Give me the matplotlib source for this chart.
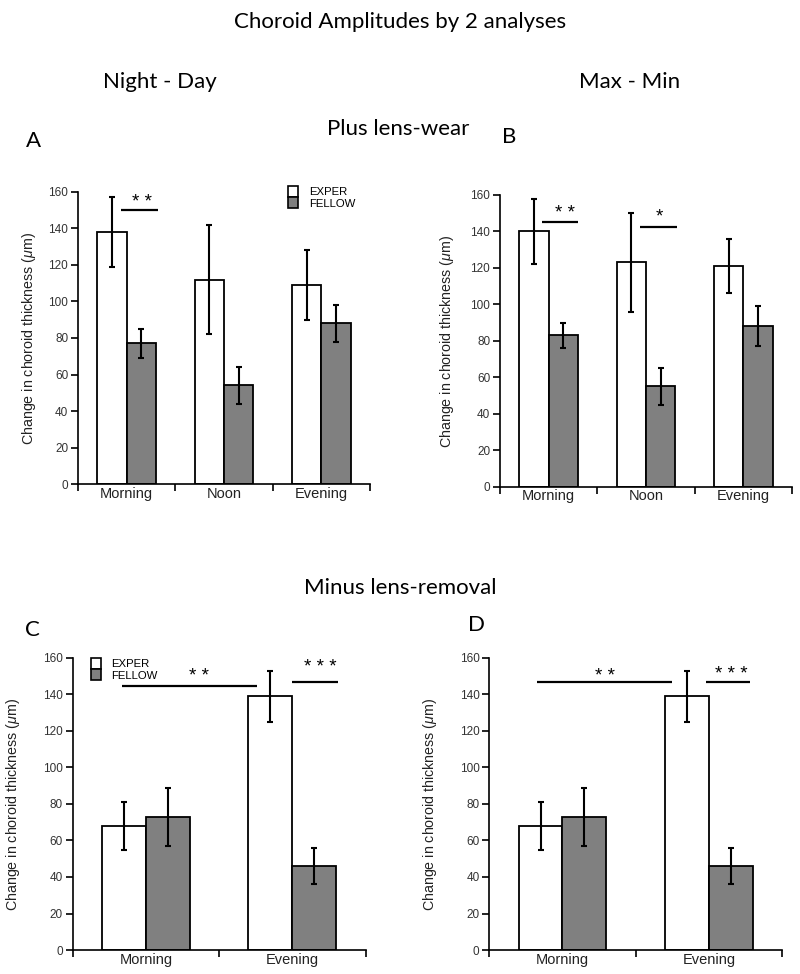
import matplotlib
matplotlib.use("Agg")
import matplotlib.pyplot as plt
import numpy as np
from matplotlib.patches import Patch

plt.rcParams['font.family'] = ['Liberation Sans', 'DejaVu Sans']
plt.rcParams['mathtext.fontset'] = 'custom'
plt.rcParams['mathtext.it'] = 'Liberation Sans:italic'
plt.rcParams['mathtext.rm'] = 'Liberation Sans'

# data: plus lens-wear (3 times of day)
times_plus = ["Morning", "Noon", "Evening"]
a_exper = [138, 112, 109]
a_exper_err = [19, 30, 19]
a_fellow = [77, 54, 88]
a_fellow_err = [8, 10, 10]

b_exper = [140, 123, 121]
b_exper_err = [18, 27, 15]
b_fellow = [83, 55, 88]
b_fellow_err = [7, 10, 11]

# data: minus lens-removal (2 times of day)
times_minus = ["Morning", "Evening"]
c_exper = [68, 139]
c_exper_err = [13, 14]
c_fellow = [73, 46]
c_fellow_err = [16, 10]

d_exper = [68, 139]
d_exper_err = [13, 14]
d_fellow = [73, 46]
d_fellow_err = [16, 10]

# significance bars: (x0, x1, y, label, label x, label y)
a_sig = [(0.445, 0.82, 150, "* *", 0.66, 157)]
b_sig = [(0.43, 0.80, 145.4, "* *", 0.668, 153), (1.44, 1.82, 142.6, "*", 1.634, 151)]
c_sig = [(0.334, 1.256, 144.5, "* *", 0.862, 153), (1.50, 1.81, 146.5, "* * *", 1.69, 157.5)]
d_sig = [(0.323, 1.245, 146.5, "* *", 0.79, 153), (1.477, 1.784, 146.5, "* * *", 1.65, 154)]

fig = plt.figure(figsize=(8, 9.74), dpi=100)

def panel(rect, cats, exper, exper_err, fellow, fellow_err, sigs, legend_pos=None, labelpad=8):
    ax = fig.add_axes(rect)
    n = len(cats)
    x = np.arange(n) + 0.5
    w = 0.3
    ax.bar(x - w / 2, exper, w, color='white', edgecolor='black', linewidth=1.3, zorder=2)
    ax.bar(x + w / 2, fellow, w, color='#808080', edgecolor='black', linewidth=1.3, zorder=2)
    ax.errorbar(x - w / 2, exper, yerr=exper_err, fmt='none', ecolor='black', elinewidth=1.5, capsize=2, capthick=1.5, zorder=3)
    ax.errorbar(x + w / 2, fellow, yerr=fellow_err, fmt='none', ecolor='black', elinewidth=1.5, capsize=2, capthick=1.5, zorder=3)

    for x0, x1, y, lab, lx, ly in sigs:
        ax.plot([x0, x1], [y, y], color='black', lw=1.6, solid_capstyle='butt')
        ax.text(lx, ly - 5.5, lab, ha='center', va='baseline', fontsize=13.5)

    ax.set_xlim(0, n)
    ax.set_ylim(0, 160)
    ax.spines['top'].set_visible(False)
    ax.spines['right'].set_visible(False)
    ax.spines['left'].set_linewidth(1.2)
    ax.spines['bottom'].set_linewidth(1.2)
    ax.set_yticks(np.arange(0, 161, 20))
    ax.tick_params(axis='y', direction='out', length=5, width=1.2, labelsize=8.5, labelcolor='#333333', pad=2)
    ax.set_xticks(np.arange(n + 1))
    ax.set_xticklabels([])
    ax.tick_params(axis='x', which='major', direction='out', length=5, width=1.2)
    ax.set_xticks(x, minor=True)
    ax.set_xticklabels(cats, minor=True, fontsize=10.5, color='#222222')
    ax.tick_params(axis='x', which='minor', length=0, pad=2)
    ax.set_ylabel(r"Change in choroid thickness ($\mu$m)", fontsize=10.3, color='#222222', labelpad=labelpad)

    if legend_pos is not None:
        handles = [Patch(facecolor='white', edgecolor='black', linewidth=1.2),
                   Patch(facecolor='#808080', edgecolor='black', linewidth=1.2)]
        ax.legend(handles, ["EXPER", "FELLOW"], loc='upper left', bbox_to_anchor=legend_pos,
                  frameon=False, fontsize=8.2, handlelength=0.9, handleheight=1.1,
                  labelspacing=0.0, handletextpad=0.9, borderpad=0, borderaxespad=0)
    return ax

panel([0.0975, 0.503, 0.365, 0.300], times_plus, a_exper, a_exper_err, a_fellow, a_fellow_err, a_sig,
      legend_pos=(0.72, 1.02), labelpad=7.5)
panel([0.625, 0.5003, 0.365, 0.2995], times_plus, b_exper, b_exper_err, b_fellow, b_fellow_err, b_sig,
      labelpad=10.5)
panel([0.0909, 0.0246, 0.366, 0.300], times_minus, c_exper, c_exper_err, c_fellow, c_fellow_err, c_sig,
      legend_pos=(0.062, 1.0), labelpad=15)
panel([0.6116, 0.0246, 0.366, 0.300], times_minus, d_exper, d_exper_err, d_fellow, d_fellow_err, d_sig,
      labelpad=15)

# outer labels
H = 974.0
def ftext(x, y, s, size=16):
    fig.text(x / 800.0, 1 - y / H, s, ha='center', va='center', fontsize=size, family='Lato')

ftext(400, 22, "Choroid Amplitudes by 2 analyses")
ftext(160, 82, "Night - Day")
ftext(630, 82, "Max - Min")
ftext(398, 129, "Plus lens-wear")
ftext(33, 141, "A")
ftext(509, 137, "B")
ftext(400, 588, "Minus lens-removal")
ftext(32, 630, "C")
ftext(477, 625, "D")

fig.savefig("out.png", dpi=100)
